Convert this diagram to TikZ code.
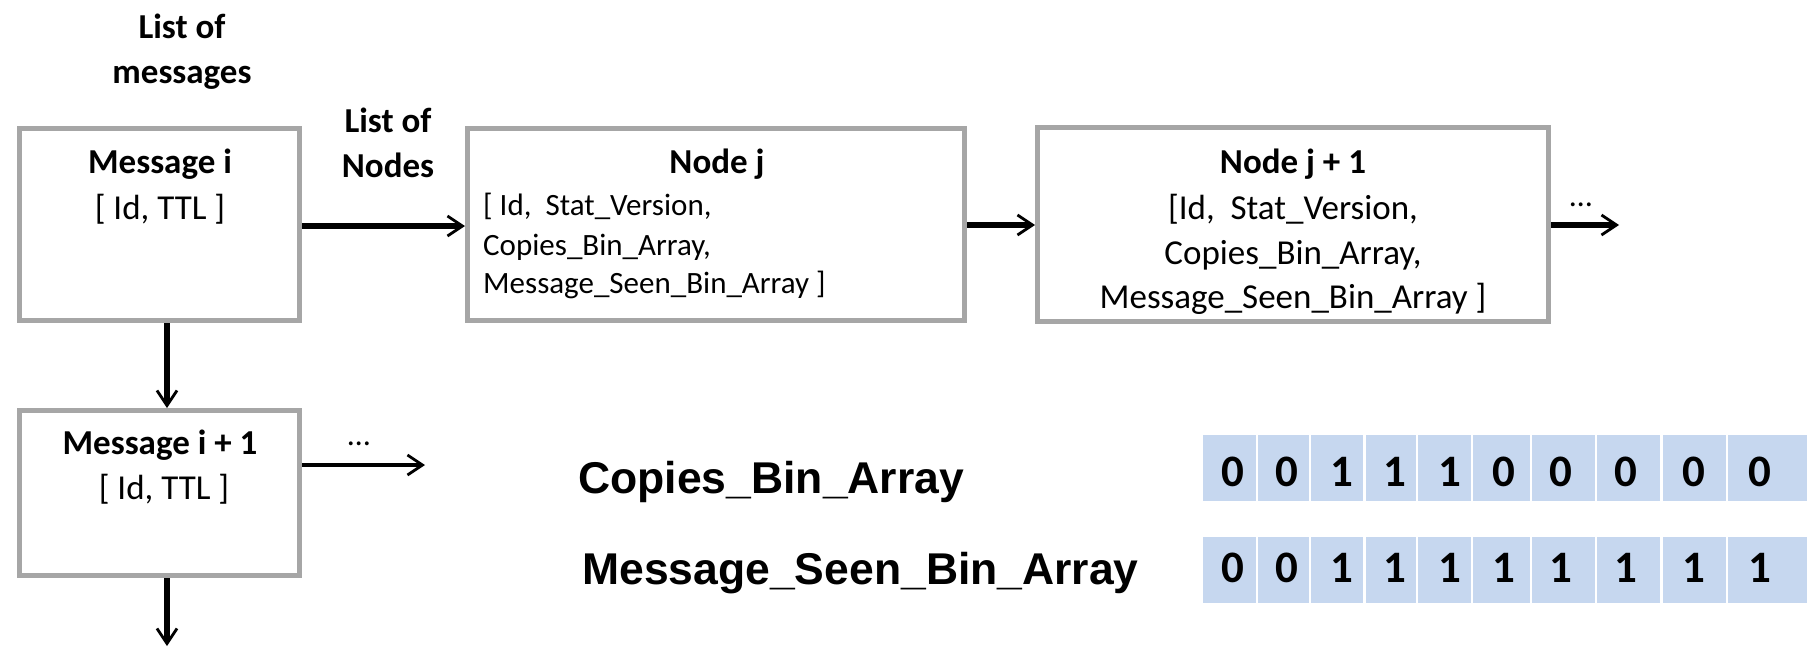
\documentclass[tikz,border=0pt]{standalone}
\usepackage{fontspec}
\setmainfont{Carlito}
\newfontfamily\arialf{Liberation Sans}
\usetikzlibrary{arrows.meta}
\definecolor{boxgray}{RGB}{166,166,166}
\definecolor{cellblue}{RGB}{198,215,239}
\newcommand\fsz[2]{\fontsize{#1}{#2}\selectfont}
\begin{document}
\begin{tikzpicture}[x=1pt,y=-1pt,
  box/.style={draw=boxgray,line width=5pt,inner sep=0pt},
  conn/.style={line width=6pt,-{Straight Barb[length=15pt,width=20pt,line width=2.8pt]}},
  txt/.style={inner sep=0pt,anchor=base},
  cell/.style={fill=cellblue,inner sep=0pt,minimum height=66pt},
  digit/.style={inner sep=0pt,anchor=base,font=\bfseries\fsz{45}{54}}]
\useasboundingbox (0,0) rectangle (1814,646);

% boxes
\node[box,minimum width=280pt,minimum height=192pt] (mi) at (159.5,224.5) {};
\node[box,minimum width=280pt,minimum height=165pt] (mi1) at (159.5,493) {};
\node[box,minimum width=497pt,minimum height=192pt] (nj) at (716,224.5) {};
\node[box,minimum width=511pt,minimum height=194pt] (nj1) at (1293,224.5) {};
\coordinate (nxt) at (1619,225);
\coordinate (mnext) at (425,465);
\coordinate (mdown) at (167,646);

% headings
\node[inner sep=0pt,align=center,font=\bfseries\fsz{35}{45}] (lom) at (182,52) {List of\\messages};
\node[inner sep=0pt,align=center,font=\bfseries\fsz{35}{45}] (lon) at (388,143) {List of\\Nodes};

% message i
\node[txt,font=\bfseries\fsz{35}{45}] (mit) at (160,173) {Message i};
\node[txt,font=\fsz{35}{45}] (mib) at (160,219) {[ Id, TTL ]};
% message i+1
\node[txt,font=\bfseries\fsz{35}{45}] (mi1t) at (160,454) {Message i + 1};
\node[txt,font=\fsz{35}{45}] (mi1b) at (164,499) {[ Id, TTL ]};

% node j
\node[txt,font=\bfseries\fsz{35}{45}] (njt) at (717,173) {Node j};
\node[txt,anchor=base west,font=\fsz{31}{40}] (nj1l) at (483,215) {[ Id,\ \ Stat\_Version,};
\node[txt,anchor=base west,font=\fsz{31}{40}] (nj2l) at (483,255) {Copies\_Bin\_Array,};
\node[txt,anchor=base west,font=\fsz{31}{40}] (nj3l) at (483,293) {Message\_Seen\_Bin\_Array ]};

% node j+1
\node[txt,font=\bfseries\fsz{35}{45}] (nkt) at (1293,173) {Node j + 1};
\node[txt,font=\fsz{35}{45}] (nk1l) at (1293,219) {[Id,\ \ Stat\_Version,};
\node[txt,font=\fsz{35}{45}] (nk2l) at (1293,264) {Copies\_Bin\_Array,};
\node[txt,font=\fsz{35}{45}] (nk3l) at (1293,308) {Message\_Seen\_Bin\_Array ]};

% dots
\node[txt,font=\fsz{32}{40}] (d1) at (1581,206) {…};
\node[txt,font=\fsz{32}{40}] (d2) at (359,445) {…};

% connectors
\draw[conn] (mi.east |- 0,226) -- (nj.west |- 0,226);
\draw[conn] (nj.east |- 0,225) -- (nj1.west |- 0,225);
\draw[conn] (nj1.east |- nxt) -- (nxt);
\draw[conn] ([xshift=7.5pt]mi.south) -- ([xshift=7.5pt]mi1.north);
\draw[conn,line width=4.5pt] ([yshift=28pt]mi1.east) -- (mnext);
\draw[conn] ([xshift=7.5pt]mi1.south) -- (mdown);

% array labels
\node[txt,anchor=base west,font=\arialf\bfseries\fsz{44.5}{52}] (cba) at (578,493) {Copies\_Bin\_Array};
\node[txt,anchor=base west,font=\arialf\bfseries\fsz{44.5}{52}] (msba) at (582,584) {Message\_Seen\_Bin\_Array};

% arrays
\foreach \l/\r/\d/\a/\b [count=\k] in {1203/1256/1233/0/0,1258/1309/1287/0/0,1311/1363/1342/1/1,1366/1416/1395/1/1,1418/1471/1450/1/1,1473/1530/1504/0/1,1532/1595/1561/0/1,1597/1660/1626/0/1,1663/1726/1694/0/1,1728/1807/1760/0/1}{
  \node[cell,minimum width={(\r-\l)*1pt}] (ca\k) at ({(\l+\r)/2},468) {};
  \node[digit] (da\k) at (\d,486) {\a};
  \node[cell,minimum width={(\r-\l)*1pt}] (cb\k) at ({(\l+\r)/2},570) {};
  \node[digit] (db\k) at (\d,582) {\b};
}
\end{tikzpicture}
\end{document}
